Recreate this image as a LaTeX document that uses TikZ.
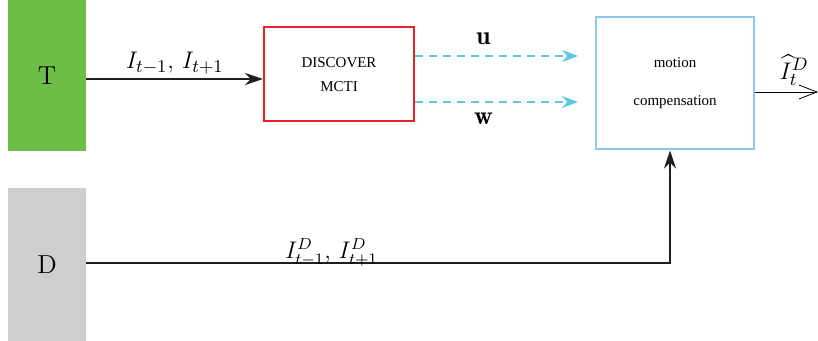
\documentclass[tikz,border=0pt]{standalone}
\usepackage{amsmath}
\usepackage{amssymb}
\usepackage{xcolor}
\usepackage{fontspec}
\newfontfamily\boxfont{Liberation Serif}
\usetikzlibrary{arrows.meta,positioning,calc}

\definecolor{tgreen}{RGB}{108,190,69}
\definecolor{dgray}{RGB}{205,206,208}
\definecolor{mred}{RGB}{232,32,40}
\definecolor{mblue}{RGB}{140,200,236}
\definecolor{mcyan}{RGB}{96,200,222}
\definecolor{arrdark}{RGB}{30,30,30}

\begin{document}
\begin{tikzpicture}[
  x=0.5pt, y=-0.5pt,
  src/.style={rectangle, minimum width=39pt, inner sep=0pt, font=\fontsize{13}{15}\selectfont},
  box/.style={draw, rectangle, line width=1pt, align=center, inner sep=0pt},
  lbl/.style={font=\fontsize{13}{15}\selectfont},
  arr/.style={-{Stealth[length=9pt,width=6pt]}, line width=1.2pt, draw=arrdark},
  flow/.style={-{Stealth[length=8pt,width=6pt]}, line width=1pt, draw=mcyan, dash pattern=on 4pt off 3pt}
]
  \useasboundingbox (0,0) rectangle (818,341);

  \node[src, fill=tgreen, minimum height=75.5pt] (T) at (47,75.5) {T};
  \node[src, fill=dgray, minimum height=76.5pt] (D) at (47,264.5) {D};
  \node[box, draw=mred, minimum width=75pt, minimum height=47pt,
        font=\boxfont\fontsize{7.5}{12}\selectfont] (mcti) at (339,74.5) {DISCOVER\\MCTI};
  \node[box, draw=mblue, minimum width=79pt, minimum height=66pt,
        font=\boxfont\fontsize{7.5}{19}\selectfont] (mc) at (675,83.5) {motion\\compensation};

  \coordinate (uend) at (578,56);
  \coordinate (wend) at (578,102);
  \coordinate (out) at (818,92);
  \coordinate (bend) at (670,263);

  \draw[arr] (T.east |- 0,79) -- node[lbl, above, inner sep=2pt]{$I_{t-1},\,I_{t+1}$} (mcti.west |- 0,79);
  \draw[flow] (mcti.east |- uend) -- node[lbl, pos=0.42, above, inner sep=5pt]{$\mathbf{u}$} (uend);
  \draw[flow] (mcti.east |- wend) -- node[lbl, pos=0.42, below, inner sep=5pt]{$\mathbf{w}$} (wend);
  \draw[-{Straight Barb[length=9pt,width=7pt]}, line width=0.4pt] (mc.east |- out) -- node[lbl, pos=0.62, above, inner sep=3pt]{$\widehat{I}_t^D$} (out);
  \draw[arr] (D.east |- bend) -- node[pos=0.42, above, inner sep=0pt, yshift=-2pt, font=\fontsize{12}{14}\selectfont]{$I_{t-1}^D,\,I_{t+1}^D$} (bend) -- (mc.south -| bend);
\end{tikzpicture}
\end{document}
